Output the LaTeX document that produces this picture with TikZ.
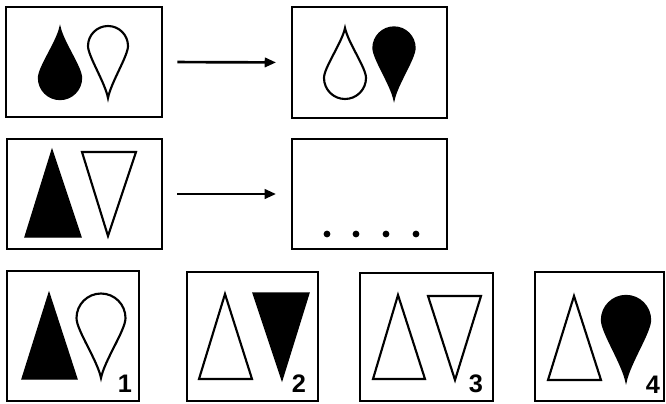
\documentclass[tikz,border=0pt]{standalone}
\usepackage{fontspec}
\setmainfont{Liberation Sans}
\usetikzlibrary{arrows.meta,fit}
\tikzset{
  panel/.style={draw=black, line width=1.9pt, inner sep=0pt},
  outl/.style={draw=black, line width=1.6pt, fill=white},
  solid fill/.style={draw=black, line width=1pt, fill=black},
  arr/.style={line width=2pt, -{Triangle[length=8.5pt,width=7pt]}},
  num/.style={font=\fontsize{19}{19}\selectfont\bfseries, inner sep=0pt},
  dotm/.style={fill=black}
}
% #1 cx, #2 cy, #3 r, #4 tip y, #5 sign (-1 tip up, +1 tip down), #6 style
\newcommand\teardrop[6]{%
  \path[#6] (#1,#4) .. controls ({#1+0.15*#3},{#4+0.3*(#2-#4)}) and ({#1+#3},{#2+(#5)*0.5*#3}) .. ({#1+#3},#2)
    arc[start angle=0,end angle={0-(#5)*180},radius=#3]
    .. controls ({#1-#3},{#2+(#5)*0.5*#3}) and ({#1-0.15*#3},{#4+0.3*(#2-#4)}) .. cycle;}
\begin{document}
\begin{tikzpicture}[x=0.75pt,y=-0.75pt]
\useasboundingbox (0,0) rectangle (666,403);
% panels
\node[panel, fit={(6,7) (162,117)}] (b1) {};
\node[panel, fit={(292,7) (447,118)}] (b2) {};
\node[panel, fit={(7,139) (162,249)}] (b3) {};
\node[panel, fit={(292,139) (447,249)}] (b4) {};
\node[panel, fit={(7,271) (139,401)}] (ba) {};
\node[panel, fit={(187,272) (318,401)}] (bb) {};
\node[panel, fit={(360,273) (493,401)}] (bc) {};
\node[panel, fit={(535,272) (664,401)}] (bd) {};
% arrows
\draw[arr, shorten <=10.5pt, shorten >=11pt] (b1.east) -- (b2.west);
\draw[arr, shorten <=10.5pt, shorten >=11pt] (b3.east) -- (b4.west);
% row 1
\teardrop{60}{78}{21.5}{27}{-1}{solid fill}
\teardrop{108}{46}{20}{98}{1}{outl}
\teardrop{345}{78}{21}{28}{-1}{outl}
\teardrop{394}{48}{21}{100}{1}{solid fill}
% row 2
\path[solid fill] (52,150) -- (81,237) -- (25,237) -- cycle;
\path[outl] (82,152) -- (136,152) -- (108,236) -- cycle;
\foreach \dx in {327,356,386,416} \fill (\dx,234) circle[radius=3.4];
% options
\path[solid fill] (49,293) -- (77,379) -- (22,379) -- cycle;
\teardrop{101}{318}{24.5}{378}{1}{outl}
\node[num] (n1) at (125,384) {1};

\path[outl] (225,294) -- (252,379) -- (199,379) -- cycle;
\path[solid fill] (253,293) -- (309,293) -- (282,380) -- cycle;
\node[num] (n2) at (299,384) {2};

\path[outl] (398,295) -- (425,379) -- (373,379) -- cycle;
\path[outl] (428,296) -- (481,296) -- (455,380) -- cycle;
\node[num] (n3) at (476,384) {3};

\path[outl] (574,296) -- (601,380) -- (548,380) -- cycle;
\teardrop{626}{320}{24.5}{382}{1}{solid fill}
\node[num] (n4) at (653,385) {4};
\end{tikzpicture}
\end{document}
